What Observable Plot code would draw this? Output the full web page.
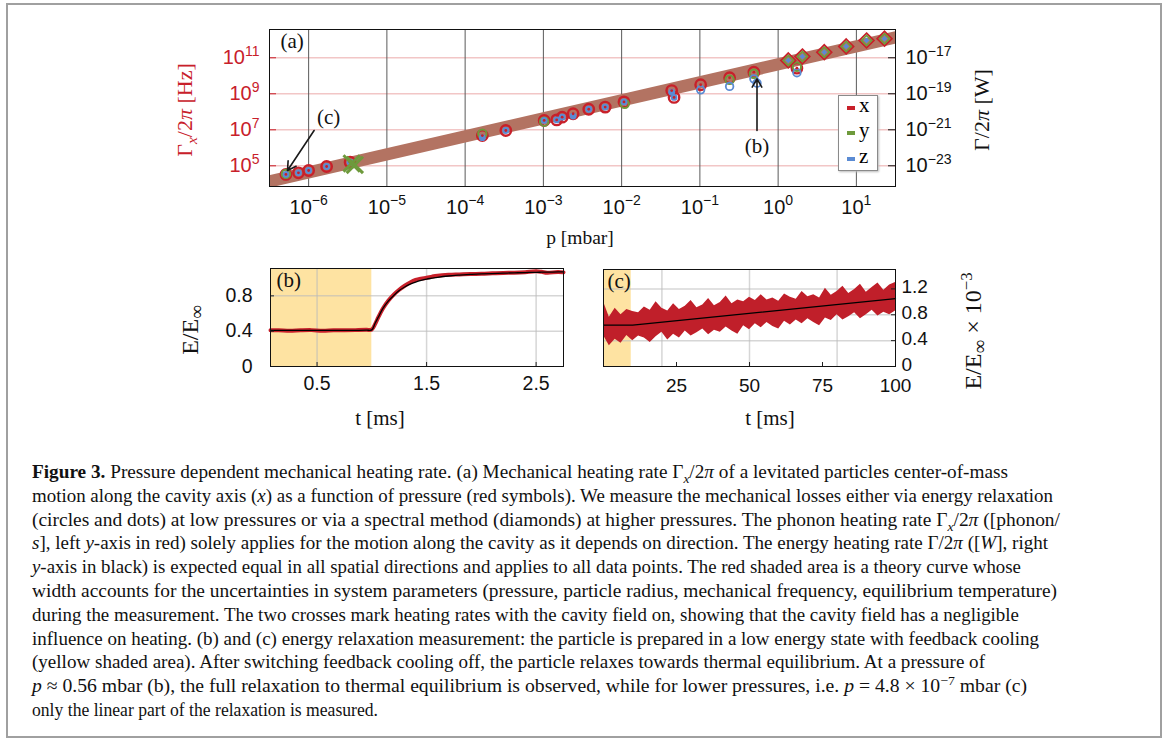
<!DOCTYPE html>
<html><head><meta charset="utf-8">
<script src="https://cdn.jsdelivr.net/npm/d3@7"></script>
<script src="https://cdn.jsdelivr.net/npm/@observablehq/plot@0.6"></script>
<style>
body{margin:0;background:#fff;}
#wrap{position:relative;width:1168px;height:742px;overflow:hidden;background:#fff;}
.abs{position:absolute;}
.lab{position:absolute;white-space:nowrap;transform:translate(-50%,-50%);font-family:"Liberation Serif",serif;font-size:21px;color:#111;}
.rot{transform:translate(-50%,-50%) rotate(-90deg);}
#border{position:absolute;left:6px;top:3px;width:1152px;height:731px;border:2px solid #a0a0a0;}
#caption{position:absolute;left:32px;top:461px;font-family:"Liberation Serif",serif;font-size:18.5px;line-height:23.8px;color:#111;}
#caption div{white-space:nowrap;transform-origin:0 50%;width:max-content;}
sub,sup{font-size:0.7em;line-height:0;}
.big sub{font-size:0.8em;}
#legend{position:absolute;left:838px;top:95px;width:38px;height:74px;border:1.5px solid #8a8a8a;box-shadow:1px 1px 2px #bbb;background:#fff;font-family:"Liberation Serif",serif;font-size:21px;}
#legend .row{position:absolute;left:0;height:20px;width:38px;}
#legend .sw{position:absolute;left:8px;top:8px;width:8px;height:4px;}
#legend .tx{position:absolute;left:20px;top:-5px;line-height:24px;}
</style></head><body>
<div id="wrap">
  <div id="border"></div>
  <div id="pa" class="abs" style="left:0;top:0"></div>
  <div id="pb" class="abs" style="left:0;top:250px"></div>
  <div id="pc" class="abs" style="left:590px;top:250px"></div>
  <div class="lab rot" style="left:185px;top:110px;color:#c8202a;font-size:22px">Γ<sub><i>x</i></sub>/2<i>π</i> [Hz]</div>
  <div class="lab rot" style="left:982px;top:110px;font-size:22px">Γ/2<i>π</i> [W]</div>
  <div class="lab" style="left:580px;top:238px;font-size:19.5px">p [mbar]</div>
  <div class="lab rot big" style="left:190px;top:330px;font-size:24px">E/E<sub>∞</sub></div>
  <div class="lab" style="left:380px;top:418px">t [ms]</div>
  <div class="lab" style="left:770px;top:418px">t [ms]</div>
  <div class="lab rot big" style="left:973px;top:331px;font-size:24px">E/E<sub>∞</sub> × 10<sup>−3</sup></div>
  <div id="legend"></div>
  <div id="caption"></div>
</div>
<script>
// ---------- data (panel a) ----------
const decades = [1e-6, 1e-5, 1e-4, 1e-3, 1e-2, 1e-1, 1, 10];
const gammaTicks = [1e5, 1e7, 1e9, 1e11];
const wattExpOffset = -28;
// theory band (log10 values)
const bandLogP = [-6.5, 1.5];
const bandLogLo = [3.75, 11.75];
const bandLogHi = [4.45, 12.45];
// x: red circles with dots (energy relaxation)
const xCircLogP = [-6.29, -6.13, -6.00, -5.77, -5.47, -3.78, -3.48, -2.99, -2.83, -2.76, -2.62, -2.42, -2.21, -1.97, -1.36, -1.33, -0.99, -0.62, -0.31, 0.24];
const xCircLogG = [4.52, 4.61, 4.74, 4.96, 5.20, 6.68, 6.96, 7.52, 7.55, 7.70, 7.89, 8.14, 8.26, 8.55, 9.18, 8.80, 9.50, 9.89, 10.20, 10.42];
// z: blue filled circles inside red rings
const zFillLogP = [-6.29, -6.13, -6.00, -5.77, -5.47, -3.78, -3.48, -2.99, -2.83, -2.76, -2.62, -2.42, -2.21, -1.97, -1.36, -1.33];
const zFillLogG = [4.52, 4.61, 4.74, 4.96, 5.20, 6.56, 6.96, 7.52, 7.55, 7.70, 7.76, 8.14, 8.26, 8.55, 9.09, 8.80];
// z: open blue circles
const zOpenLogP = [-0.99, -0.62, -0.31, -0.27, 0.24];
const zOpenLogG = [9.22, 9.41, 9.83, 9.59, 10.17];
// y: green rings
const yCircLogP = [-6.29, -3.78, -2.99, -1.96, -0.62, -0.31, 0.24];
const yCircLogG = [4.55, 6.78, 7.45, 8.44, 9.78, 10.11, 10.50];
// spectral method (diamonds)
const diamLogP = [0.13, 0.31, 0.59, 0.87, 1.13, 1.36];
const diamLogG = [10.85, 11.07, 11.31, 11.63, 11.96, 12.06];
// crosses (cavity field on)
const crossLogP = [-5.45, -5.41];
const crossLogG = [5.13, 5.05];
// annotations (log10 p, log10 Γ)
const annLabels = ["(c)", "(b)"];
const annLabelLogP = [-5.745, -0.27];
const annLabelLogG = [7.68, 6.07];
const annArrowFromLogP = [-5.93, -0.27];
const annArrowFromLogG = [6.96, 6.96];
const annArrowToLogP = [-6.27, -0.27];
const annArrowToLogG = [4.74, 9.83];
const legendKeys = ["x", "y", "z"];

// ---------- data (panel b) ----------
const bCool = [0.075, 1.0];
const bT   = [0.075,0.15,0.25,0.35,0.45,0.55,0.65,0.75,0.85,0.95,1.0,1.03,1.06,1.1,1.15,1.2,1.25,1.3,1.35,1.4,1.45,1.5,1.55,1.6,1.7,1.8,1.9,2.0,2.1,2.2,2.3,2.4,2.5,2.55,2.6,2.7,2.75];
const bMeas= [0.41,0.41,0.405,0.41,0.412,0.405,0.41,0.41,0.412,0.415,0.42,0.48,0.56,0.655,0.745,0.815,0.87,0.915,0.952,0.98,0.995,1.005,1.018,1.028,1.038,1.043,1.048,1.05,1.055,1.06,1.062,1.068,1.078,1.072,1.062,1.07,1.066];
const bFit = [0.41,0.41,0.41,0.41,0.41,0.41,0.41,0.41,0.41,0.412,0.415,0.49,0.56,0.655,0.74,0.805,0.86,0.9,0.932,0.956,0.975,0.99,1.0,1.01,1.025,1.035,1.043,1.049,1.053,1.057,1.061,1.064,1.067,1.068,1.069,1.071,1.072];
const bTicksX = [0.5, 1.5, 2.5];
const bTicksY = [0, 0.4, 0.8];

// ---------- data (panel c) ----------
const cCool = [0, 9.5];
const cT  = [0,2,4,6,8,10,12,14,16,18,20,22,24,26,28,30,32,34,36,38,40,42,44,46,48,50,52,54,56,58,60,62,64,66,68,70,72,74,76,78,80,82,84,86,88,90,92,94,96,98,100];
const cHi = [1.00,0.76,0.90,0.80,0.88,0.85,0.83,0.92,0.87,1.00,0.90,0.86,0.97,0.88,0.93,1.02,0.91,0.95,1.05,0.94,0.99,1.09,0.97,1.03,1.00,1.07,1.02,1.11,1.03,1.06,1.01,1.12,1.07,1.04,1.16,1.08,1.11,1.06,1.21,1.10,1.16,1.24,1.13,1.19,1.27,1.15,1.22,1.29,1.18,1.26,1.30];
const cLo = [0.48,0.32,0.42,0.36,0.48,0.40,0.47,0.44,0.37,0.46,0.53,0.41,0.50,0.44,0.55,0.47,0.52,0.58,0.49,0.56,0.53,0.61,0.55,0.50,0.63,0.57,0.66,0.60,0.68,0.62,0.58,0.70,0.64,0.72,0.66,0.74,0.68,0.63,0.75,0.71,0.80,0.72,0.77,0.83,0.74,0.80,0.87,0.78,0.84,0.80,0.86];
const cFitT = [0, 10, 100];
const cFitE = [0.64, 0.64, 1.05];
const cGridX = [20, 50, 80];
const cTicksX = [25, 50, 75, 100];
const cTicksY = [0, 0.4, 0.8, 1.2];

// ---------- styles ----------
const RED = "#c8202a", GREEN = "#6e9a3c", BLUE = "#5b8bd3", BAND = "#b37362", YEL = "#fee3a2";
const SANS = "Liberation Sans, Arial, sans-serif";
const SERIF = "Liberation Serif, serif";
const minus = k => (k < 0 ? "\u2212" + (-k) : String(k));
const expFmt = off => d => "10^" + minus(Math.round(Math.log10(d)) + off);
const plainFmt = d => String(d);
const pts = (lp, lg) => lp.map((p, i) => ({p: 10 ** p, g: 10 ** lg[i]}));

function supify(svg) {
  d3.select(svg).selectAll("text").each(function () {
    const m = /^10\^(.+)$/.exec(this.textContent);
    if (!m) return;
    const s = d3.select(this);
    s.text(null);
    s.append("tspan").text("10");
    s.append("tspan").attr("dy", "-0.62em").attr("font-size", "0.7em").text(m[1]);
  });
}

// ---------- panel a ----------
const aW = 1168, aH = 250, aML = 269, aMR = 273, aMT = 29, aMB = 64;
const aInnerW = aW - aML - aMR;
const band = bandLogP.map((p, i) => ({p: 10 ** p, lo: 10 ** bandLogLo[i], hi: 10 ** bandLogHi[i]}));
const xC = pts(xCircLogP, xCircLogG), zF = pts(zFillLogP, zFillLogG), zO = pts(zOpenLogP, zOpenLogG);
const yC = pts(yCircLogP, yCircLogG), dm = pts(diamLogP, diamLogG), cr = pts(crossLogP, crossLogG);
const ann = annLabels.map((t, i) => ({t, p: 10 ** annLabelLogP[i], g: 10 ** annLabelLogG[i]}));
const arrows = annLabels.map((t, i) => ({x1: 10 ** annArrowFromLogP[i], y1: 10 ** annArrowFromLogG[i], x2: 10 ** annArrowToLogP[i], y2: 10 ** annArrowToLogG[i]}));

const plotA = Plot.plot({
  width: aW, height: aH, marginLeft: aML, marginRight: aMR, marginTop: aMT, marginBottom: aMB,
  style: {fontFamily: SANS, fontSize: "20px", background: "transparent", color: "#111"},
  x: {type: "log", domain: [10 ** -6.5, 10 ** 1.5]},
  y: {type: "log", domain: [10 ** 3.85, 10 ** 12.57]},
  marks: [
    Plot.ruleY(gammaTicks, {stroke: "#f2c6c6", strokeWidth: 1.6}),
    Plot.ruleX(decades, {stroke: "#5a5a5a", strokeWidth: 1}),
    Plot.areaY(band, {x: "p", y1: "lo", y2: "hi", fill: BAND, clip: true}),
    Plot.dot(xC, {x: "p", y: "g", r: 5.2, stroke: RED, strokeWidth: 2.4}),
    Plot.dot(yC, {x: "p", y: "g", r: 4.2, stroke: GREEN, strokeWidth: 2}),
    Plot.dot(zF, {x: "p", y: "g", r: 3.4, fill: BLUE}),
    Plot.dot(zO, {x: "p", y: "g", r: 3.8, stroke: BLUE, strokeWidth: 1.8, fill: "none"}),
    Plot.dot(xC, {x: "p", y: "g", r: 1.4, fill: RED}),
    Plot.dot(dm, {x: "p", y: "g", symbol: "diamond2", r: 6.6, stroke: RED, strokeWidth: 1.8}),
    Plot.dot(dm, {x: "p", y: "g", symbol: "diamond2", r: 4.6, stroke: GREEN, strokeWidth: 1.6}),
    Plot.dot(dm, {x: "p", y: "g", symbol: "diamond2", r: 2.6, fill: BLUE}),
    Plot.dot(cr, {x: "p", y: "g", symbol: "times", r: 7.5, stroke: GREEN, strokeWidth: 3}),
    Plot.tickY(gammaTicks, {stroke: RED, insetRight: aInnerW - 7}),
    Plot.tickY(gammaTicks, {stroke: "#111", insetLeft: aInnerW - 7}),
    Plot.axisX({ticks: decades, tickSize: 0, tickPadding: 13, tickFormat: expFmt(0), label: null}),
    Plot.axisY({anchor: "left", ticks: gammaTicks, tickSize: 0, tickPadding: 10, tickFormat: expFmt(0), color: RED, label: null}),
    Plot.axisY({anchor: "right", ticks: gammaTicks, tickSize: 0, tickPadding: 10, tickFormat: expFmt(wattExpOffset), label: null}),
    Plot.frame({stroke: "#111"}),
    Plot.arrow(arrows, {x1: "x1", y1: "y1", x2: "x2", y2: "y2", stroke: "#1a1a1a", strokeWidth: 1.6, headLength: 9}),
    Plot.text(ann, {x: "p", y: "g", text: "t", fontFamily: SERIF, fontSize: 21, fill: "#111"}),
    Plot.text(["(a)"], {frameAnchor: "top-left", dx: 11, dy: 4, fontFamily: SERIF, fontSize: 21, fill: "#111"})
  ]
});
supify(plotA);
document.getElementById("pa").appendChild(plotA);

// ---------- panel b ----------
const bW = 590, bH = 190, bML = 270, bMR = 27, bMT = 18, bMB = 74;
const bInnerW = bW - bML - bMR, bInnerH = bH - bMT - bMB;
const bMeasData = bT.map((t, i) => ({t, e: bMeas[i]}));
const bFitData = bT.map((t, i) => ({t, e: bFit[i]}));
const plotB = Plot.plot({
  width: bW, height: bH, marginLeft: bML, marginRight: bMR, marginTop: bMT, marginBottom: bMB,
  style: {fontFamily: SANS, fontSize: "19.5px", background: "transparent", color: "#111"},
  x: {domain: [0.075, 2.75]},
  y: {domain: [0, 1.11]},
  marks: [
    Plot.rect([bCool], {x1: d => d[0], x2: d => d[1], fill: YEL}),
    Plot.ruleX(bTicksX, {stroke: "#bbb", strokeOpacity: 0.6, strokeWidth: 1.5}),
    Plot.ruleY([0.4, 0.8], {stroke: "#bbb", strokeOpacity: 0.6, strokeWidth: 1.5}),
    Plot.line(bMeasData, {x: "t", y: "e", stroke: RED, strokeWidth: 4, curve: "catmull-rom"}),
    Plot.line(bFitData, {x: "t", y: "e", stroke: "#000", strokeWidth: 1.3, curve: "catmull-rom"}),
    Plot.tickX(bTicksX, {stroke: "#222", insetTop: bInnerH - 4}),
    Plot.tickY(bTicksY, {stroke: "#222", insetRight: bInnerW - 4}),
    Plot.axisX({ticks: bTicksX, tickSize: 0, tickPadding: 10, tickFormat: plainFmt, label: null}),
    Plot.axisY({ticks: bTicksY, tickSize: 0, tickPadding: 18, tickFormat: plainFmt, label: null}),
    Plot.frame({stroke: "#111"}),
    Plot.text(["(b)"], {frameAnchor: "top-left", dx: 6, dy: 4, fontFamily: SERIF, fontSize: 21, fill: "#111"})
  ]
});
document.getElementById("pb").appendChild(plotB);

// ---------- panel c ----------
const cW = 578, cH = 190, cML = 13, cMR = 273, cMT = 19, cMB = 74;
const cInnerW = cW - cML - cMR, cInnerH = cH - cMT - cMB;
const cBand = cT.map((t, i) => ({t, lo: cLo[i], hi: cHi[i]}));
const cFit = cFitT.map((t, i) => ({t, e: cFitE[i]}));
const plotC = Plot.plot({
  width: cW, height: cH, marginLeft: cML, marginRight: cMR, marginTop: cMT, marginBottom: cMB,
  style: {fontFamily: SANS, fontSize: "19px", background: "transparent", color: "#111"},
  x: {domain: [0, 100]},
  y: {domain: [0, 1.5]},
  marks: [
    Plot.rect([cCool], {x1: d => d[0], x2: d => d[1], fill: YEL}),
    Plot.ruleX(cGridX, {stroke: "#bbb", strokeOpacity: 0.6, strokeWidth: 1.5}),
    Plot.ruleY([0.4, 0.8, 1.2], {stroke: "#bbb", strokeOpacity: 0.6, strokeWidth: 1.5}),
    Plot.areaY(cBand, {x: "t", y1: "lo", y2: "hi", fill: "#c01f2a"}),
    Plot.line(cFit, {x: "t", y: "e", stroke: "#000", strokeWidth: 1.2}),
    Plot.tickX(cTicksX, {stroke: "#222", insetTop: cInnerH - 4}),
    Plot.tickY(cTicksY, {stroke: "#222", insetLeft: cInnerW - 4}),
    Plot.axisX({ticks: cTicksX, tickSize: 0, tickPadding: 12, tickFormat: plainFmt, label: null}),
    Plot.axisY({anchor: "right", ticks: cTicksY, tickSize: 0, tickPadding: 6, tickFormat: plainFmt, dy: -2, label: null}),
    Plot.frame({stroke: "#111"}),
    Plot.text(["(c)"], {frameAnchor: "top-left", dx: 4, dy: 4, fontFamily: SERIF, fontSize: 21, fill: "#111"})
  ]
});
document.getElementById("pc").appendChild(plotC);

// ---------- legend ----------
const legColors = [RED, GREEN, BLUE];
const legTops = [2, 27, 53];
const leg = document.getElementById("legend");
legendKeys.forEach((k, i) => {
  const row = document.createElement("div");
  row.className = "row"; row.style.top = legTops[i] + "px";
  row.innerHTML = `<div class="sw" style="background:${legColors[i]}"></div><div class="tx">${k}</div>`;
  leg.appendChild(row);
});

// ---------- caption ----------
const captionLines = [
  "<b>Figure 3.</b> Pressure dependent mechanical heating rate. (a) Mechanical heating rate Γ<sub><i>x</i></sub>/2<i>π</i> of a levitated particles center-of-mass",
  "motion along the cavity axis (<i>x</i>) as a function of pressure (red symbols). We measure the mechanical losses either via energy relaxation",
  "(circles and dots) at low pressures or via a spectral method (diamonds) at higher pressures. The phonon heating rate Γ<sub><i>x</i></sub>/2<i>π</i> ([phonon/",
  "<i>s</i>], left <i>y</i>-axis in red) solely applies for the motion along the cavity as it depends on direction. The energy heating rate Γ/2<i>π</i> ([<i>W</i>], right",
  "<i>y</i>-axis in black) is expected equal in all spatial directions and applies to all data points. The red shaded area is a theory curve whose",
  "width accounts for the uncertainties in system parameters (pressure, particle radius, mechanical frequency, equilibrium temperature)",
  "during the measurement. The two crosses mark heating rates with the cavity field on, showing that the cavity field has a negligible",
  "influence on heating. (b) and (c) energy relaxation measurement: the particle is prepared in a low energy state with feedback cooling",
  "(yellow shaded area). After switching feedback cooling off, the particle relaxes towards thermal equilibrium. At a pressure of",
  "<i>p</i> ≈ 0.56 mbar (b), the full relaxation to thermal equilibrium is observed, while for lower pressures, i.e. <i>p</i> = 4.8 × 10<sup>−7</sup> mbar (c)",
  "only the linear part of the relaxation is measured."
];
const captionEnds = [1008, 1053, 1060, 1048, 1021, 1057, 1019, 1039, 985, 1027, 378];
const cap = document.getElementById("caption");
captionLines.forEach((h, i) => {
  const d = document.createElement("div");
  d.innerHTML = h;
  cap.appendChild(d);
  const w = d.getBoundingClientRect().width;
  const target = captionEnds[i] - 32;
  d.style.transform = `scaleX(${target / w})`;
});
</script>
</body></html>
